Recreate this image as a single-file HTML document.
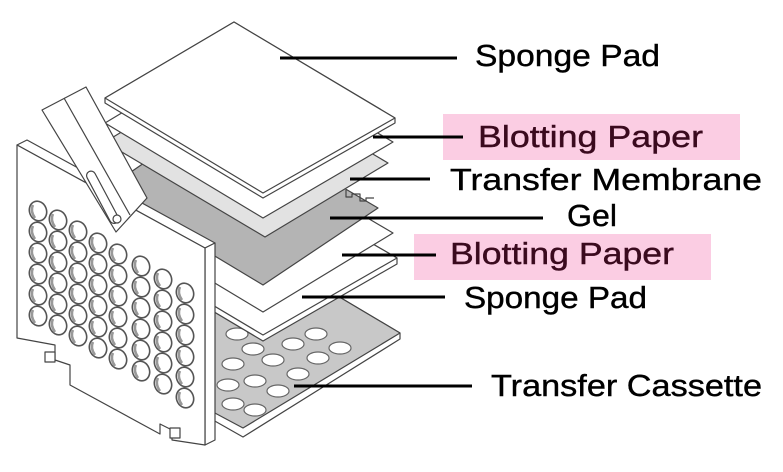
<!DOCTYPE html>
<html><head><meta charset="utf-8"><style>
html,body{margin:0;padding:0;background:#fff;width:783px;height:472px;overflow:hidden}
</style></head><body>
<svg width="783" height="472" viewBox="0 0 783 472" xmlns="http://www.w3.org/2000/svg">
<defs>
<clipPath id="tray"><polygon points="213,222 400,333 243,428 213,412"/></clipPath>
<g id="h"><ellipse cx="0" cy="0" rx="8.5" ry="10" fill="#fff" stroke="#555" stroke-width="1.6" transform="rotate(-20)"/><path d="M-5 -6 Q-8 0 -3 7" fill="none" stroke="#999" stroke-width="2.5"/></g>
</defs>
<g stroke="#444" stroke-width="1.2" stroke-linejoin="round">
<polygon points="213,222 400,333 400,339 243,437 213,420" fill="#fff"/>
<polygon points="213,222 400,333 243,428 213,412" fill="#c8c8c8"/>
<g clip-path="url(#tray)" fill="#fff" stroke="#666">
<ellipse cx="237" cy="334" rx="11" ry="6"/><ellipse cx="277" cy="324" rx="11" ry="6"/><ellipse cx="316" cy="334" rx="11" ry="6"/><ellipse cx="340" cy="348" rx="11" ry="6"/>
<ellipse cx="253" cy="349" rx="11" ry="6"/><ellipse cx="293" cy="344" rx="11" ry="6"/><ellipse cx="318" cy="358" rx="11" ry="6"/>
<ellipse cx="233" cy="364" rx="11" ry="6"/><ellipse cx="273" cy="360" rx="11" ry="6"/><ellipse cx="298" cy="374" rx="11" ry="6"/>
<ellipse cx="228" cy="385" rx="11" ry="6"/><ellipse cx="255" cy="381" rx="11" ry="6"/><ellipse cx="278" cy="391" rx="11" ry="6"/>
<ellipse cx="233" cy="404" rx="11" ry="6"/><ellipse cx="255" cy="410" rx="11" ry="6"/>
</g>
<polygon points="232,162 397,258 397,264 263,341 105,247 105,241" fill="#fff"/>
<polygon points="232,162 397,258 263,335 105,241" fill="#fff"/>
<polygon points="232,138 393,233 263,312 105,217" fill="#fff"/>
<polygon points="216,113 378,208 263,285 105,190" fill="#b4b4b4"/>
<polyline points="346,190 346,197 352,197 352,194 360,194 360,201 366,201 366,198 374,198" fill="none"/>
<polygon points="227,68 388,163 265,237 105,142" fill="#e2e2e2"/>
<polygon points="232,47 393,142 263,218 105,123" fill="#fff"/>
<polygon points="234,22 395,118 395,123 263,198 105,103 105,98" fill="#fff"/>
<polygon points="234,22 395,118 263,193 105,98" fill="#fff"/>
<polygon points="17,145 27,140 215,243 205,248" fill="#fff"/>
<polygon points="205,248 215,243 215,440 205,445" fill="#fff"/>
<polygon points="17,145 205,248 205,445 172,440 172,430 160,424 160,434 70,385 70,365 55,360 55,345 17,338" fill="#fff"/>
<rect x="45" y="352" width="10" height="10" fill="#fff"/>
<rect x="170" y="428" width="10" height="10" fill="#fff"/>
<polygon points="42,110 86,87 147,198 116,232" fill="#fff"/>
<line x1="64" y1="98" x2="130" y2="215"/>
<rect x="98" y="168" width="9" height="58" rx="4.5" fill="#fff" transform="rotate(-28 103 197)"/>
<circle cx="117" cy="219" r="4" fill="#fff"/>
</g>
<g transform="translate(38,211)"><use href="#h"/><use href="#h" y="21"/><use href="#h" y="42"/><use href="#h" y="63"/><use href="#h" y="84"/><use href="#h" y="105"/></g>
<g transform="translate(58,220)"><use href="#h"/><use href="#h" y="21"/><use href="#h" y="42"/><use href="#h" y="63"/><use href="#h" y="84"/><use href="#h" y="105"/></g>
<g transform="translate(78,231)"><use href="#h"/><use href="#h" y="21"/><use href="#h" y="42"/><use href="#h" y="63"/><use href="#h" y="84"/><use href="#h" y="105"/></g>
<g transform="translate(98,243)"><use href="#h"/><use href="#h" y="21"/><use href="#h" y="42"/><use href="#h" y="63"/><use href="#h" y="84"/><use href="#h" y="105"/></g>
<g transform="translate(118,254)"><use href="#h"/><use href="#h" y="21"/><use href="#h" y="42"/><use href="#h" y="63"/><use href="#h" y="84"/><use href="#h" y="105"/></g>
<g transform="translate(141,266)"><use href="#h"/><use href="#h" y="21"/><use href="#h" y="42"/><use href="#h" y="63"/><use href="#h" y="84"/><use href="#h" y="105"/></g>
<g transform="translate(163,279)"><use href="#h"/><use href="#h" y="21"/><use href="#h" y="42"/><use href="#h" y="63"/><use href="#h" y="84"/><use href="#h" y="105"/></g>
<g transform="translate(185,293)"><use href="#h"/><use href="#h" y="21"/><use href="#h" y="42"/><use href="#h" y="63"/><use href="#h" y="84"/><use href="#h" y="105"/></g>
<rect x="443" y="114" width="297" height="46" fill="#fbcde3"/>
<rect x="414" y="234" width="297" height="46" fill="#fbcde3"/>
<g stroke="#000" stroke-width="3">
<line x1="280" y1="58" x2="457" y2="58"/>
<line x1="373" y1="137" x2="463" y2="137"/>
<line x1="350" y1="179" x2="430" y2="179"/>
<line x1="330" y1="218" x2="543" y2="218"/>
<line x1="342" y1="255" x2="436" y2="255"/>
<line x1="302" y1="297" x2="445" y2="297"/>
<line x1="294" y1="386" x2="472" y2="386"/>
</g>
<g font-family="Liberation Sans, sans-serif" font-size="31" fill="#000" stroke="#000" stroke-width="0.4">
<text x="475" y="66" textLength="185" lengthAdjust="spacingAndGlyphs">Sponge Pad</text>
<text x="478" y="147" textLength="225" lengthAdjust="spacingAndGlyphs" fill="#3a0a1e" stroke="#3a0a1e">Blotting Paper</text>
<text x="450" y="190" textLength="312" lengthAdjust="spacingAndGlyphs">Transfer Membrane</text>
<text x="567" y="226" textLength="50" lengthAdjust="spacingAndGlyphs">Gel</text>
<text x="450" y="264" textLength="224" lengthAdjust="spacingAndGlyphs" fill="#3a0a1e" stroke="#3a0a1e">Blotting Paper</text>
<text x="464" y="308" textLength="183" lengthAdjust="spacingAndGlyphs">Sponge Pad</text>
<text x="491" y="396" textLength="271" lengthAdjust="spacingAndGlyphs">Transfer Cassette</text>
</g>
</svg>
</body></html>
